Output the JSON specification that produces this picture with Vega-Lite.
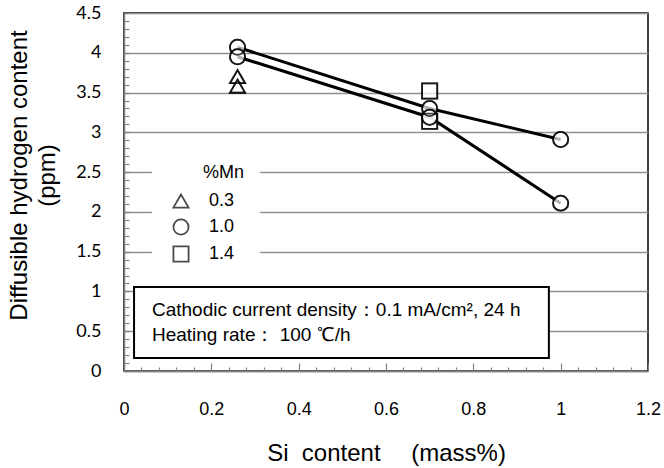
{
  "$schema": "https://vega.github.io/schema/vega-lite/v6.json",
  "width": 524,
  "height": 358,
  "autosize": {"type": "none"},
  "padding": {"left": 124, "top": 13, "right": 16, "bottom": 97},
  "background": "white",
  "config": {
    "view": {"stroke": "black", "strokeWidth": 1.5},
    "font": "Liberation Sans"
  },
  "data": {
    "values": [
      {"si": 0.26, "h": 3.70, "mn": "0.3", "line": null},
      {"si": 0.26, "h": 3.58, "mn": "0.3", "line": null},
      {"si": 0.70, "h": 3.52, "mn": "1.4", "line": null},
      {"si": 0.70, "h": 3.14, "mn": "1.4", "line": null},
      {"si": 0.26, "h": 4.07, "mn": "1.0", "line": "A"},
      {"si": 0.70, "h": 3.30, "mn": "1.0", "line": "A"},
      {"si": 1.00, "h": 2.91, "mn": "1.0", "line": "A"},
      {"si": 0.26, "h": 3.95, "mn": "1.0", "line": "B"},
      {"si": 0.70, "h": 3.19, "mn": "1.0", "line": "B"},
      {"si": 1.00, "h": 2.11, "mn": "1.0", "line": "B"}
    ]
  },
  "resolve": {"legend": {"shape": "independent"}},
  "layer": [
    {
      "data": {"values": [{}]},
      "mark": {"type": "rect", "fill": "white", "strokeOpacity": 0},
      "encoding": {
        "x": {"datum": 0.064, "type": "quantitative", "scale": {"domain": [0, 1.2], "nice": false}},
        "x2": {"datum": 0.311},
        "y": {"datum": 2.65, "type": "quantitative", "scale": {"domain": [0, 4.5], "nice": false}},
        "y2": {"datum": 1.33}
      }
    },
    {
      "data": {"values": [{}]},
      "mark": {"type": "rect", "fill": "white", "stroke": "black", "strokeWidth": 2},
      "encoding": {
        "x": {"datum": 0.023, "type": "quantitative"},
        "x2": {"datum": 0.973},
        "y": {"datum": 1.055, "type": "quantitative"},
        "y2": {"datum": 0.163}
      }
    },
    {
      "data": {"values": [{}]},
      "mark": {"type": "text", "align": "left", "baseline": "middle", "fontSize": 19, "font": "Liberation Sans", "fontWeight": "normal", "fill": "black"},
      "encoding": {
        "x": {"datum": 0.064, "type": "quantitative"},
        "y": {"datum": 0.766, "type": "quantitative"},
        "text": {"value": "Cathodic current density：0.1 mA/cm², 24 h"}
      }
    },
    {
      "data": {"values": [{}]},
      "mark": {"type": "text", "align": "left", "baseline": "middle", "fontSize": 19, "font": "Liberation Sans", "fontWeight": "normal", "fill": "black"},
      "encoding": {
        "x": {"datum": 0.064, "type": "quantitative"},
        "y": {"datum": 0.452, "type": "quantitative"},
        "text": {"value": "Heating rate： 100 ℃/h"}
      }
    },
    {
      "transform": [{"filter": "datum.line != null"}],
      "mark": {"type": "line", "color": "black", "strokeWidth": 3},
      "encoding": {
        "x": {"field": "si", "type": "quantitative"},
        "y": {"field": "h", "type": "quantitative"},
        "detail": {"field": "line"}
      }
    },
    {
      "mark": {"type": "point", "filled": true, "fill": "white", "stroke": "black", "strokeWidth": 1.8, "size": 230},
      "encoding": {
        "x": {"field": "si", "type": "quantitative"},
        "y": {"field": "h", "type": "quantitative"},
        "shape": {"field": "mn", "type": "nominal", "legend": null,
          "scale": {"domain": ["0.3", "1.0", "1.4"], "range": ["triangle-up", "circle", "square"]}}
      }
    },
    {
      "mark": {"type": "point", "filled": false, "stroke": "black", "strokeWidth": 1.8, "size": 230},
      "encoding": {
        "x": {"field": "si", "type": "quantitative", "axis": {
          "orient": "bottom", "tickCount": 100,
          "values": [0,0.04,0.08,0.12,0.16,0.2,0.24,0.28,0.32,0.36,0.4,0.44,0.48,0.52,0.56,0.6,0.64,0.68,0.72,0.76,0.8,0.84,0.88,0.92,0.96,1,1.04,1.08,1.12,1.16,1.2],
          "format": "~g",
          "labelExpr": "abs(round(datum.value * 5) - datum.value * 5) < 0.001 ? datum.label : ''",
          "labelOverlap": false, "labelBound": false, "labelFlush": false,
          "ticks": true, "tickColor": "#808080", "tickWidth": 1.2,
          "tickSize": {"condition": {"test": "abs(round(datum.value * 5) - datum.value * 5) < 0.001", "value": -8}, "value": -4},
          "grid": false,
          "domain": true, "domainColor": "#808080", "domainWidth": 1.5,
          "labelPadding": 37, "labelFont": "Liberation Sans", "labelFontSize": 18, "labelColor": "black",
          "title": "Si\u00a0\u00a0content\u3000\u00a0(mass%)", "titleFont": "Liberation Sans", "titleFontSize": 24,
          "titleFontWeight": "normal", "titleColor": "black",
          "titleY": 82, "titleBaseline": "middle"
        }},
        "y": {"field": "h", "type": "quantitative", "axis": {
          "orient": "left", "tickCount": 100,
          "values": [0,0.1,0.2,0.3,0.4,0.5,0.6,0.7,0.8,0.9,1,1.1,1.2,1.3,1.4,1.5,1.6,1.7,1.8,1.9,2,2.1,2.2,2.3,2.4,2.5,2.6,2.7,2.8,2.9,3,3.1,3.2,3.3,3.4,3.5,3.6,3.7,3.8,3.9,4,4.1,4.2,4.3,4.4,4.5],
          "format": "~g",
          "labelExpr": "abs(round(datum.value * 2) - datum.value * 2) < 0.001 ? datum.label : ''",
          "labelOverlap": false, "labelBound": false, "labelFlush": false,
          "ticks": true, "tickColor": "#808080", "tickWidth": 1.2, "tickSize": -5,
          "grid": true, "gridColor": "#909090", "gridWidth": 1.5,
          "gridOpacity": {"condition": {"test": "abs(round(datum.value * 2) - datum.value * 2) < 0.001", "value": 1}, "value": 0},
          "domain": true, "domainColor": "#808080", "domainWidth": 1.5,
          "labelPadding": 28, "labelFont": "Lato", "labelFontSize": 18, "labelColor": "black",
          "title": ["Diffusible hydrogen content", "(ppm)"], "titleFont": "Liberation Sans", "titleFontSize": 24,
          "titleFontWeight": "normal", "titleColor": "black", "titleLineHeight": 28,
          "titleX": -105, "titleY": 162, "titleAngle": -90, "titleAlign": "center", "titleBaseline": "middle"
        }},
        "shape": {"field": "mn", "type": "nominal",
          "scale": {"domain": ["0.3", "1.0", "1.4"], "range": ["triangle-up", "circle", "square"]},
          "legend": {
            "orient": "none", "legendX": 48, "legendY": 151,
            "title": "%Mn", "titleFont": "Liberation Sans", "titleFontSize": 18, "titleFontWeight": "normal",
            "titleColor": "black", "titlePadding": 10, "titleAnchor": "middle", "titleAlign": "left",
            "labelFont": "Liberation Sans", "labelFontSize": 18, "labelColor": "black", "labelOffset": 19,
            "symbolSize": 230, "symbolStrokeWidth": 1.8, "symbolStrokeColor": "black", "symbolFillColor": "white",
            "rowPadding": 3, "padding": 0
          }
        }
      }
    }
  ]
}
